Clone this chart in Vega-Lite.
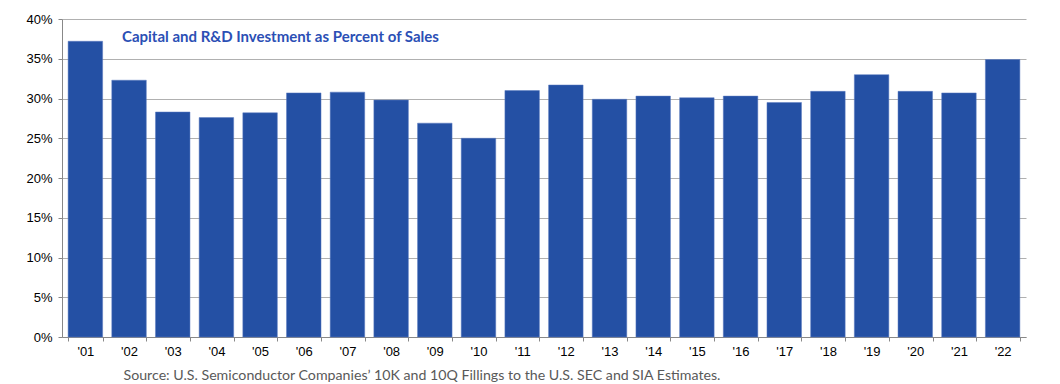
{
  "$schema": "https://vega.github.io/schema/vega-lite/v6.json",
  "width": 964,
  "height": 318,
  "autosize": {"type": "none"},
  "padding": {"left": 62, "top": 19, "right": 34, "bottom": 47},
  "background": "white",
  "title": {
    "text": "Capital and R&D Investment as Percent of Sales",
    "anchor": "start",
    "frame": "group",
    "font": "Lato",
    "fontWeight": "bold",
    "fontSize": 15,
    "color": "#2B4FB5",
    "dx": 60,
    "dy": 36
  },
  "data": {
    "values": [
      {"year": "'01", "pct": 37.2},
      {"year": "'02", "pct": 32.3},
      {"year": "'03", "pct": 28.3},
      {"year": "'04", "pct": 27.6},
      {"year": "'05", "pct": 28.2},
      {"year": "'06", "pct": 30.7},
      {"year": "'07", "pct": 30.8},
      {"year": "'08", "pct": 29.8},
      {"year": "'09", "pct": 26.9},
      {"year": "'10", "pct": 25.0},
      {"year": "'11", "pct": 31.0},
      {"year": "'12", "pct": 31.7},
      {"year": "'13", "pct": 29.9},
      {"year": "'14", "pct": 30.3},
      {"year": "'15", "pct": 30.1},
      {"year": "'16", "pct": 30.3},
      {"year": "'17", "pct": 29.5},
      {"year": "'18", "pct": 30.9},
      {"year": "'19", "pct": 33.0},
      {"year": "'20", "pct": 30.9},
      {"year": "'21", "pct": 30.7},
      {"year": "'22", "pct": 34.9}
    ]
  },
  "mark": {"type": "bar", "color": "#2450A4", "stroke": "#5a7bc0", "strokeWidth": 0.5},
  "encoding": {
    "x": {
      "field": "year",
      "type": "nominal",
      "sort": null,
      "scale": {"paddingInner": 0.21, "paddingOuter": 0.14},
      "axis": {
        "title": "Source: U.S. Semiconductor Companies’ 10K and 10Q Fillings to the U.S. SEC and SIA Estimates.",
        "titleX": 61,
        "titleY": 38,
        "titleAlign": "left",
        "titleBaseline": "middle",
        "titleFont": "Lato",
        "titleFontSize": 14.2,
        "titleFontWeight": "normal",
        "titleColor": "#595959",
        "labelAngle": 0,
        "labelFont": "Liberation Sans",
        "labelFontSize": 13,
        "labelColor": "#000000",
        "labelPadding": 4,
        "tickBand": "extent",
        "tickSize": 4,
        "tickColor": "#888888",
        "domainColor": "#888888",
        "grid": false
      }
    },
    "y": {
      "field": "pct",
      "type": "quantitative",
      "scale": {"domain": [0, 40], "nice": false},
      "axis": {
        "title": null,
        "values": [0, 5, 10, 15, 20, 25, 30, 35, 40],
        "labelExpr": "datum.value + '%'",
        "labelFont": "Liberation Sans",
        "labelFontSize": 13,
        "labelColor": "#000000",
        "labelPadding": 6,
        "tickSize": 4,
        "tickColor": "#888888",
        "domainColor": "#888888",
        "grid": true,
        "gridColor": "#b0b0b0",
        "gridWidth": 1
      }
    }
  },
  "config": {"view": {"stroke": null}}
}
